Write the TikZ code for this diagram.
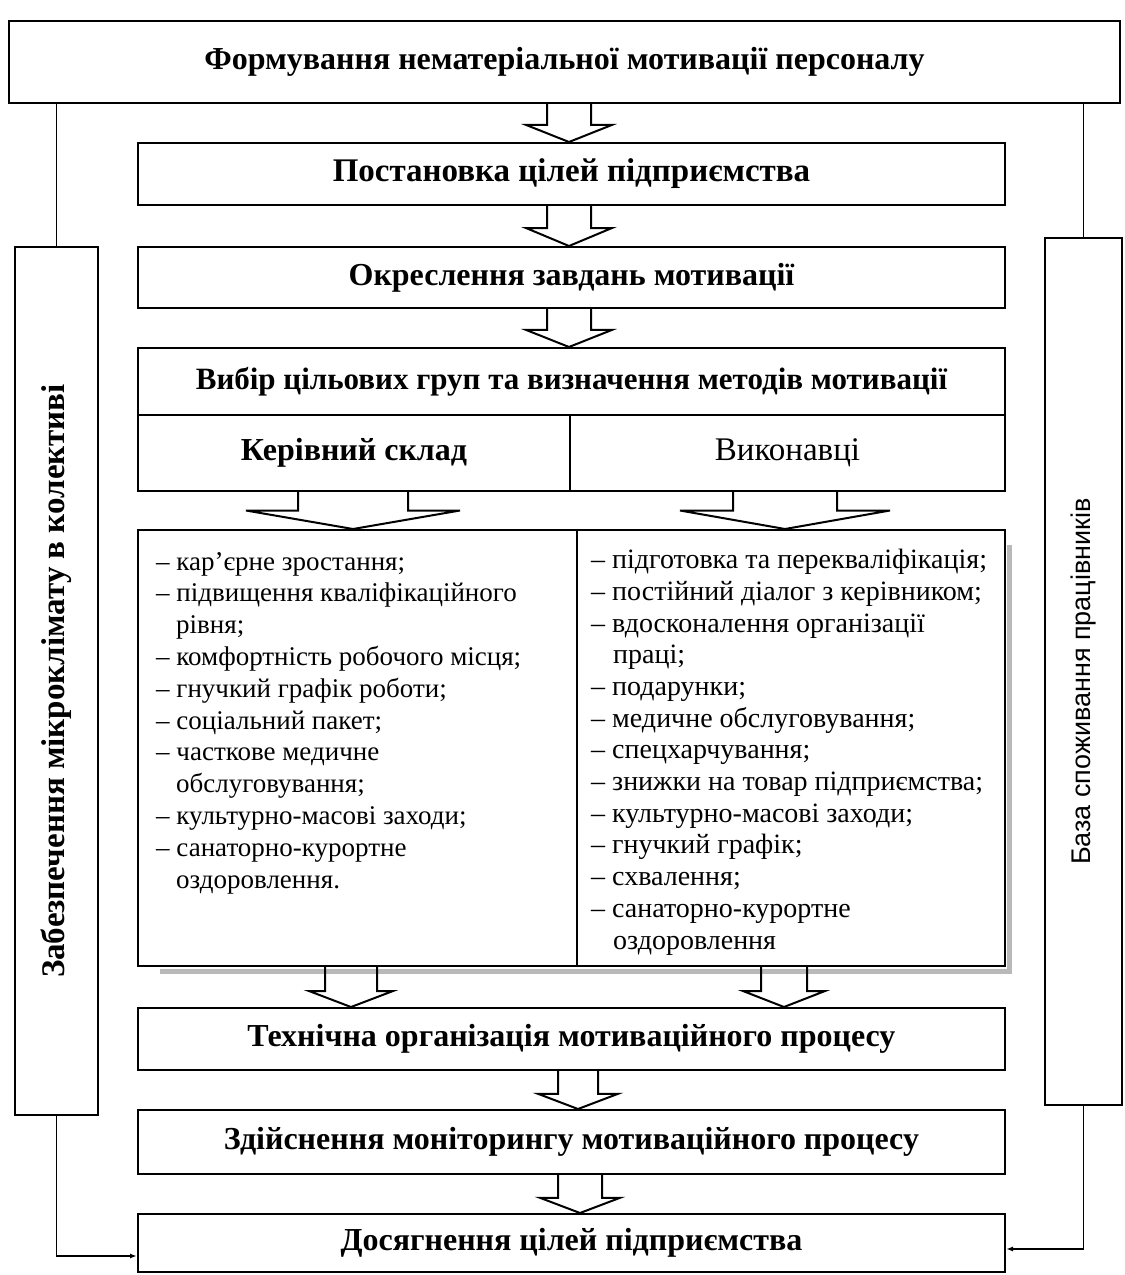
\documentclass[tikz,border=0pt]{standalone}
\usepackage{fontspec}
\setmainfont{Liberation Serif}
\newfontfamily\arialf{Liberation Sans}
\usetikzlibrary{calc,arrows.meta}
\tikzset{
  bx/.style={draw, line width=2pt, fill=white, inner sep=0pt, rectangle, align=center},
  hd/.style={font=\fontsize{32}{38}\selectfont\bfseries},
  blk/.style={draw, line width=2pt, line join=miter},
  conn/.style={draw, line width=1.8pt},
  lst/.style={inner sep=0pt, align=left, anchor=north west},
  shd/.style={draw=gray!55, line width=5pt},
  tip/.style={-{Latex[length=7pt,width=5pt]}}
}
\newcommand\barrow[6]{%
  \draw[blk] let \p1=(#1.south), \p2=(#2.north), \n1={\y1+(\y2-\y1)*#6} in
    ({(#3-#4)*1pt},\y1) -- ({(#3-#4)*1pt},{\n1*1pt}) -- ({(#3-#5)*1pt},{\n1*1pt})
    -- ({#3*1pt},\y2) -- ({(#3+#5)*1pt},{\n1*1pt}) -- ({(#3+#4)*1pt},{\n1*1pt})
    -- ({(#3+#4)*1pt},\y1);}
\begin{document}
\begin{tikzpicture}[x=1pt,y=-1pt]
\useasboundingbox (0,0) rectangle (1125,1275);

% main column
\node[bx,hd,minimum width=1111pt,minimum height=82pt] (top) at (564.5,62) {Формування нематеріальної мотивації персоналу};
\node[bx,font=\fontsize{33}{38}\selectfont\bfseries,minimum width=867pt,minimum height=62pt] (post) at (571.5,174) {Постановка цілей підприємства};
\node[bx,hd,minimum width=867pt,minimum height=61pt] (okr) at (571.5,277.5) {Окреслення завдань мотивації};
\node[bx,font=\fontsize{31}{36}\selectfont\bfseries,minimum width=867pt,minimum height=67pt] (vyb) at (571.5,381.5) {Вибір цільових груп та визначення методів мотивації};
\node[bx,hd,minimum width=432pt,minimum height=76pt] (ker) at (354,453) {Керівний склад};
\node[bx,font=\fontsize{33}{38}\selectfont,minimum width=435pt,minimum height=76pt] (vyk) at (787.5,453) {Виконавці};

% list boxes
\draw[shd] (1009,545) -- (1009,971) -- (160,971);
\draw[shd,line width=6pt] (583,545) -- (583,960);
\node[bx,minimum width=439pt,minimum height=436pt] (ll) at (357.5,748) {};
\node[bx,minimum width=428pt,minimum height=436pt] (lr) at (791,748) {};
\node[lst,font=\fontsize{27}{31.8}\selectfont] (lt) at (156,552) {– кар’єрне зростання;\\
– підвищення кваліфікаційного\\
\hspace*{20pt}рівня;\\
– комфортність робочого місця;\\
– гнучкий графік роботи;\\
– соціальний пакет;\\
– часткове медичне\\
\hspace*{20pt}обслуговування;\\
– культурно-масові заходи;\\
– санаторно-курортне\\
\hspace*{20pt}оздоровлення.};
\node[lst,font=\fontsize{28}{31.7}\selectfont] (rt) at (591,549) {– підготовка та перекваліфікація;\\
– постійний діалог з керівником;\\
– вдосконалення організації\\
\hspace*{22pt}праці;\\
– подарунки;\\
– медичне обслуговування;\\
– спецхарчування;\\
– знижки на товар підприємства;\\
– культурно-масові заходи;\\
– гнучкий графік;\\
– схвалення;\\
– санаторно-курортне\\
\hspace*{22pt}оздоровлення};

\node[bx,hd,minimum width=867pt,minimum height=62pt] (tekh) at (571.5,1039) {Технічна організація мотиваційного процесу};
\node[bx,hd,minimum width=867pt,minimum height=64pt] (zd) at (571.5,1142) {Здійснення моніторингу мотиваційного процесу};
\node[bx,hd,minimum width=867pt,minimum height=58pt] (dos) at (571.5,1243) {Досягнення цілей підприємства};

% side boxes
\node[bx,minimum width=83pt,minimum height=868pt] (lb) at (56.5,681) {};
\node[rotate=90,font=\fontsize{33}{38}\selectfont\bfseries] (lbt) at (lb.center) {Забезпечення мікроклімату в колективі};
\node[bx,minimum width=77pt,minimum height=867pt] (rb) at (1083.5,671.5) {};
\node[rotate=90,font=\arialf\fontsize{27}{31}\selectfont] (rbt) at ([yshift=-10pt]rb.center) {База споживання працівників};

% connectors
\draw[conn] (top.south -| lb.north) -- (lb.north);
\draw[conn] (top.south -| rb.north) -- (rb.north);
\draw[conn,tip] (lb.south) |- ([yshift=-13pt]dos.west);
\draw[conn,tip] (rb.south) |- ([yshift=-6pt]dos.east);

% block arrows
\barrow{top}{post}{569}{22}{43}{0.55}
\barrow{post}{okr}{569}{22}{43}{0.55}
\barrow{okr}{vyb}{569}{22}{43}{0.55}
\barrow{ker}{ll}{353}{55}{107}{0.5}
\barrow{vyk}{lr}{785}{52}{105}{0.5}
\barrow{ll}{tekh}{351}{26}{42}{0.6}
\barrow{lr}{tekh}{784}{23}{41}{0.6}
\barrow{tekh}{zd}{578}{20}{40}{0.6}
\barrow{zd}{dos}{580}{22}{40}{0.6}
\end{tikzpicture}
\end{document}
